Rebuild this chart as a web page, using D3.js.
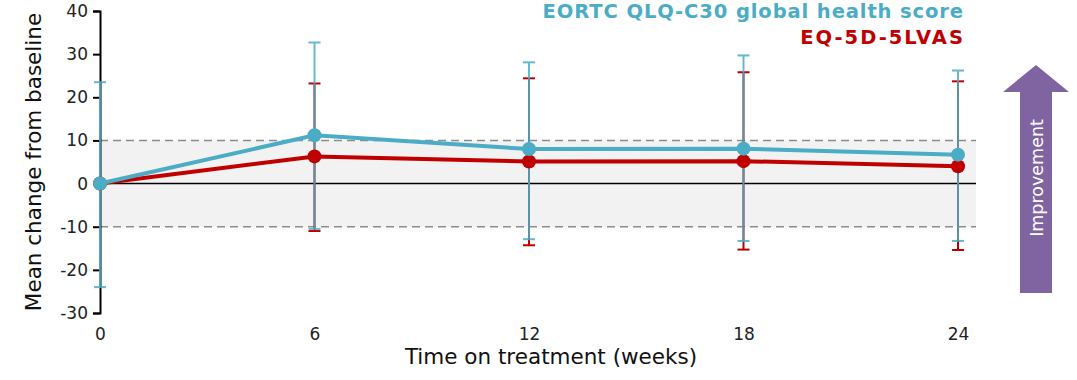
<!DOCTYPE html>
<html>
<head>
<meta charset="utf-8">
<script src="https://cdn.jsdelivr.net/npm/d3@7"></script>
<style>
  body { margin: 0; background: #fff; }
  text { font-family: "DejaVu Sans", Verdana, sans-serif; }
</style>
</head>
<body>
<div id="chart"></div>
<script>
// data
var weeks = [0, 6, 12, 18, 24];
var yTicks = [-30, -20, -10, 0, 10, 20, 30, 40];

var eortcMean = [0, 11.2, 8.0, 8.1, 6.7];
var eortcUpper = [23.5, 32.7, 28.1, 29.7, 26.2];
var eortcLower = [-24, -10.5, -12.9, -13.3, -13.3];

var vasMean = [0, 6.3, 5.1, 5.2, 4.0];
var vasUpper = [null, 23.2, 24.4, 25.8, 23.7];
var vasLower = [null, -11.0, -14.3, -15.3, -15.4];

var blue = '#4bacc6';
var red = '#c00000';

var width = 1077, height = 380;

var svg = d3.select('#chart').append('svg')
    .attr('width', width)
    .attr('height', height);

var xScale = d3.scaleLinear().domain([0, 24]).range([100, 958]);
var yScale = d3.scaleLinear().domain([-30, 40]).range([313, 11]);

// grey band +/-10
svg.append('rect')
    .attr('x', xScale(0))
    .attr('y', yScale(10))
    .attr('width', 976 - xScale(0))
    .attr('height', yScale(-10) - yScale(10))
    .attr('fill', '#f2f2f2');

[10, -10].forEach(function (v) {
    svg.append('line')
        .attr('x1', xScale(0)).attr('x2', 976)
        .attr('y1', yScale(v)).attr('y2', yScale(v))
        .attr('stroke', '#8c8c8c')
        .attr('stroke-width', 1.5)
        .attr('stroke-dasharray', '8,5');
});

// zero line
svg.append('line')
    .attr('x1', xScale(0)).attr('x2', 976)
    .attr('y1', yScale(0)).attr('y2', yScale(0))
    .attr('stroke', '#000')
    .attr('stroke-width', 1.5);

// y axis
var yAxis = d3.axisLeft(yScale).tickValues(yTicks).tickSize(7).tickPadding(5);
var gy = svg.append('g')
    .attr('transform', 'translate(' + xScale(0) + ',0)')
    .call(yAxis);
gy.select('.domain').attr('stroke', '#000').attr('stroke-width', 2);
gy.selectAll('.tick line').attr('stroke', '#000').attr('stroke-width', 2);
gy.selectAll('.tick text')
    .style('font-size', '17px')
    .attr('fill', '#222')
    .text(function (d) { return d; });

// x axis labels only
var xAxis = d3.axisBottom(xScale).tickValues(weeks).tickSize(0).tickPadding(0);
var gx = svg.append('g')
    .attr('transform', 'translate(0,' + 328 + ')')
    .call(xAxis);
gx.select('.domain').remove();
gx.selectAll('.tick text').style('font-size', '17px').attr('fill', '#222');

// axis titles
svg.append('text')
    .attr('transform', 'translate(41,' + yScale(5) + ') rotate(-90)')
    .attr('text-anchor', 'middle')
    .style('font-size', '21.5px')
    .attr('fill', '#111')
    .text('Mean change from baseline');

svg.append('text')
    .attr('x', 551)
    .attr('y', 364)
    .attr('text-anchor', 'middle')
    .style('font-size', '21.5px')
    .attr('fill', '#111')
    .text('Time on treatment (weeks)');

function errorBars(mean, upper, lower, color, opacity) {
    var g = svg.append('g').attr('stroke', color).attr('stroke-width', 2).attr('opacity', opacity);
    weeks.forEach(function (w, i) {
        if (upper[i] === null) return;
        var x = xScale(w);
        g.append('line').attr('x1', x).attr('x2', x)
            .attr('y1', yScale(upper[i])).attr('y2', yScale(lower[i]));
        g.append('line').attr('x1', x - 6).attr('x2', x + 6)
            .attr('y1', yScale(upper[i])).attr('y2', yScale(upper[i]));
        g.append('line').attr('x1', x - 6).attr('x2', x + 6)
            .attr('y1', yScale(lower[i])).attr('y2', yScale(lower[i]));
    });
}

errorBars(vasMean, vasUpper, vasLower, red, 1);
errorBars(eortcMean, eortcUpper, eortcLower, blue, 0.85);

var line = d3.line()
    .x(function (d, i) { return xScale(weeks[i]); })
    .y(function (d) { return yScale(d); });

function series(mean, color) {
    svg.append('path')
        .datum(mean)
        .attr('d', line)
        .attr('fill', 'none')
        .attr('stroke', color)
        .attr('stroke-width', 4);
    svg.selectAll(null)
        .data(mean)
        .enter()
        .append('circle')
        .attr('cx', function (d, i) { return xScale(weeks[i]); })
        .attr('cy', function (d) { return yScale(d); })
        .attr('r', 7)
        .attr('fill', color);
}

series(vasMean, red);
series(eortcMean, blue);

// legend
svg.append('text')
    .attr('x', 964).attr('y', 18)
    .attr('text-anchor', 'end')
    .style('font-size', '19.5px')
    .style('font-weight', 'bold')
    .style('letter-spacing', '0.9px')
    .attr('fill', blue)
    .text('EORTC QLQ-C30 global health score');

svg.append('text')
    .attr('x', 965).attr('y', 44)
    .attr('text-anchor', 'end')
    .style('font-size', '19.5px')
    .style('font-weight', 'bold')
    .style('letter-spacing', '2px')
    .attr('fill', red)
    .text('EQ-5D-5LVAS');

// improvement arrow
var ax = 1036;
var arrow = d3.path();
arrow.moveTo(ax, 65);
arrow.lineTo(ax + 33, 92);
arrow.lineTo(ax + 16, 92);
arrow.lineTo(ax + 16, 293);
arrow.lineTo(ax - 16, 293);
arrow.lineTo(ax - 16, 92);
arrow.lineTo(ax - 33, 92);
arrow.closePath();
svg.append('path')
    .attr('d', arrow.toString())
    .attr('fill', '#8064a2');

svg.append('text')
    .attr('transform', 'translate(' + (ax + 7) + ',178) rotate(-90)')
    .attr('text-anchor', 'middle')
    .style('font-size', '17.5px')
    .attr('fill', '#fff')
    .text('Improvement');
</script>
</body>
</html>
